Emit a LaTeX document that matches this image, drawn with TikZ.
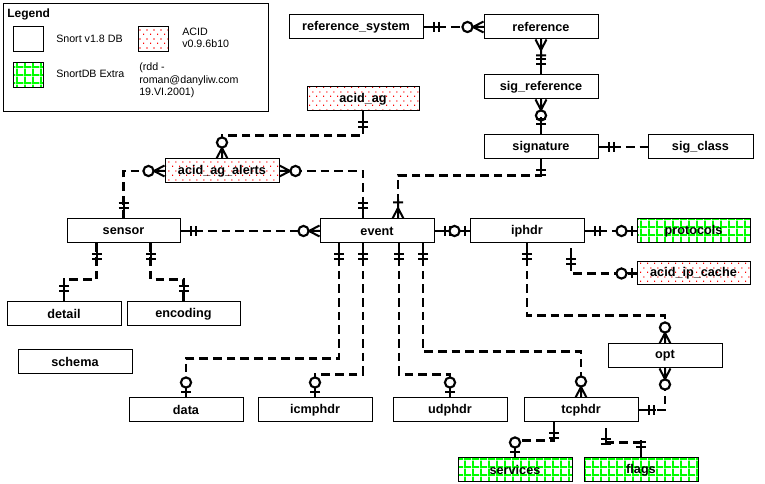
\documentclass[tikz,border=0pt]{standalone}
\usepackage{fontspec}
\setmainfont{Liberation Sans}
\usetikzlibrary{calc,decorations.markings,patterns.meta}
\definecolor{gridgreen}{RGB}{0,255,0}
\definecolor{dotred}{RGB}{255,0,0}
\tikzdeclarepattern{
  name=acidDots, type=uncolored,
  bottom left={(0pt,0pt)}, top right={(5.4pt,6.6pt)},
  tile size={(5.4pt,6.6pt)},
  code={
    \fill (0pt,0pt) rectangle (1pt,1pt);
    \fill (2.7pt,3.3pt) rectangle (3.7pt,4.3pt);
  }
}
\tikzdeclarepattern{
  name=extraGrid, type=uncolored,
  bottom left={(0pt,0pt)}, top right={(6pt,6pt)},
  tile size={(6pt,6pt)},
  code={
    \fill (0pt,0pt) rectangle (1.5pt,6pt);
    \fill (0pt,0pt) rectangle (6pt,1.5pt);
  }
}
\newcommand\erfont{\bfseries\fontsize{9.5}{11}\selectfont}
\newcommand\legfont{\fontsize{8}{9.3}\selectfont}
\newcommand\symOne{\draw[solid,line width=1.5pt] (0,0)--(17,0) (10.5,-5)--(10.5,5) (15.5,-5)--(15.5,5);}
\newcommand\symZMany{\draw[solid,line width=1.5pt] (0,-5.5)--(10.5,0)--(0,5.5) (0,0)--(11,0);
  \draw[solid,line width=1.6pt,fill=white] (16,0) circle[radius=5.1];}
\newcommand\symOMany{\draw[solid,line width=1.5pt] (0,-5.5)--(10.5,0)--(0,5.5) (0,0)--(19,0) (16,-5)--(16,5);}
\newcommand\symZOne{\draw[solid,line width=1.5pt] (0,0)--(10,0) (5,-5)--(5,5);
  \draw[solid,line width=1.6pt,fill=white] (15,0) circle[radius=5.1];}
\newcommand\flipsym[1]{\begin{scope}[xscale=-1]#1\end{scope}}
\begin{document}
\begin{tikzpicture}[x=0.75pt,y=-0.75pt,
  ent/.style={draw,line width=0.75pt,minimum width=85.5pt,minimum height=18pt,inner sep=0pt,font=\erfont},
  acid/.style={ent,preaction={fill=white},pattern=acidDots,pattern color=dotred},
  extra/.style={ent,preaction={fill=white},pattern=extraGrid,pattern color=gridgreen},
  swatch/.style={draw,line width=0.75pt,minimum width=22.5pt,minimum height=18.75pt,inner sep=0pt},
  lab/.style={anchor=west,inner sep=0pt,font=\legfont,align=left},
  conn/.style={line width=1.6pt,dash pattern=on 6.5pt off 3.75pt},
  startOne/.style={postaction={decorate,decoration={markings,mark=at position 0 with {\symOne}}}},
  endOne/.style={postaction={decorate,decoration={markings,mark=at position 1 with {\flipsym{\symOne}}}}},
  startZMany/.style={postaction={decorate,decoration={markings,mark=at position 0 with {\symZMany}}}},
  endZMany/.style={postaction={decorate,decoration={markings,mark=at position 1 with {\flipsym{\symZMany}}}}},
  startOMany/.style={postaction={decorate,decoration={markings,mark=at position 0 with {\symOMany}}}},
  endOMany/.style={postaction={decorate,decoration={markings,mark=at position 1 with {\flipsym{\symOMany}}}}},
  endZOne/.style={postaction={decorate,decoration={markings,mark=at position 1 with {\flipsym{\symZOne}}}}},
]
\fill[white] (0,0) rectangle (765,484);
\useasboundingbox (0,0) rectangle (765,484);

% legend
\node[draw,line width=0.75pt,minimum width=198.75pt,minimum height=81pt,inner sep=0pt,anchor=north west] (legend) at (3,3) {};
\node[anchor=west,inner sep=0pt,font=\bfseries\fontsize{9}{11}\selectfont] (legtitle) at (7,14) {Legend};
\node[swatch] (swsnort) at (28,39.5) {};
\node[swatch,preaction={fill=white},pattern=acidDots,pattern color=dotred] (swacid) at (153,39.5) {};
\node[swatch,preaction={fill=white},pattern=extraGrid,pattern color=gridgreen] (swextra) at (28,75) {};
\node[lab] (lsnort) at (56,39) {Snort v1.8 DB};
\node[lab] (lextra) at (56,74) {SnortDB Extra};
\node[lab] (lacid) at (182,38) {ACID\\v0.9.6b10};
\node[lab] (lrdd) at (139,80.5) {(rdd -\\roman@danyliw.com\\19.VI.2001)};

% entities
\node[ent,minimum width=100.5pt] (reference_system) at (356,27) {reference\_system};
\node[ent] (reference) at (541,27) {reference};
\node[ent] (sig_reference) at (541,87) {sig\_reference};
\node[ent] (signature) at (541,147) {signature};
\node[ent,minimum width=78.75pt] (sig_class) at (700.5,147) {sig\_class};
\node[acid,minimum width=84pt] (acid_ag) at (363,99) {acid\_ag};
\node[acid] (acid_ag_alerts) at (222,171) {acid\_ag\_alerts};
\node[ent,minimum width=84.75pt] (sensor) at (123.5,231) {sensor};
\node[ent] (event) at (377,231) {event};
\node[ent] (iphdr) at (527,231) {iphdr};
\node[extra,minimum width=84.75pt] (protocols) at (693.5,231) {protocols};
\node[acid,minimum width=84.75pt,minimum height=17.25pt] (acid_ip_cache) at (693.5,273.5) {acid\_ip\_cache};
\node[ent] (detail) at (64,314) {detail};
\node[ent,minimum width=84.75pt] (encoding) at (183.5,314) {encoding};
\node[ent] (schema) at (75,362) {schema};
\node[ent] (data) at (186,410) {data};
\node[ent] (icmphdr) at (315,410) {icmphdr};
\node[ent] (udphdr) at (450,410) {udphdr};
\node[ent] (tcphdr) at (581,410) {tcphdr};
\node[ent] (opt) at (665,356) {opt};
\node[extra] (services) at (515,470) {services};
\node[extra] (flags) at (641,470) {flags};

% connectors
\draw[conn,startOne,endZMany] (reference_system.east) -- (reference.west);
\draw[conn,startOMany,endOne] (reference.south) -- (sig_reference.north);
\draw[conn,startZMany,endOne] (sig_reference.south) -- (signature.north);
\draw[conn,startOne] (signature.east) -- (sig_class.west);
\draw[conn,startOne,endOMany] (signature.south) -- ++(0,16) -| ($(event.north)+(21,0)$);
\draw[conn,startOne,endZMany] (acid_ag.south) -- ++(0,24) -| (acid_ag_alerts.north);
\draw[conn,startOne,endZMany] (sensor.north) |- (acid_ag_alerts.west);
\draw[conn,startZMany,endOne] (acid_ag_alerts.east) -| ($(event.north)+(-14,0)$);
\draw[conn,startOne,endZMany] (sensor.east) -- (event.west);
\draw[conn,startOne,endZOne] (event.east) -- (iphdr.west);
\draw[conn,startOne,endZOne] (iphdr.east) -- (protocols.west);
\draw[conn,startOne,endZOne] ($(iphdr.south)+(44,5)$) |- (acid_ip_cache.west);
\draw[conn,startOne,endZMany] (iphdr.south) -- ++(0,72) -| (opt.north);
\draw[conn,startZMany,endOne] (opt.south) |- (tcphdr.east);
\draw[conn,startOne,endOne] ($(sensor.south)+(-27,0)$) -- ++(0,36) -| (detail.north);
\draw[conn,startOne,endOne] ($(sensor.south)+(27,0)$) -- ++(0,36) -| (encoding.north);
\draw[conn,startOne,endZOne] ($(event.south)+(-38,0)$) -- ++(0,115) -| (data.north);
\draw[conn,startOne,endZOne] ($(event.south)+(-14,0)$) -- ++(0,131) -| (icmphdr.north);
\draw[conn,startOne,endZOne] ($(event.south)+(22,0)$) -- ++(0,131) -| (udphdr.north);
\draw[conn,startOne,endZMany] ($(event.south)+(46,0)$) -- ++(0,108) -| (tcphdr.north);
\draw[conn,startOne,endZOne] ($(tcphdr.south)+(-27,0)$) -- ++(0,18) -| (services.north);
\draw[conn,startOne,endOne] ($(tcphdr.south)+(25,6)$) -- ++(0,14) -| (flags.north);
\end{tikzpicture}
\end{document}
